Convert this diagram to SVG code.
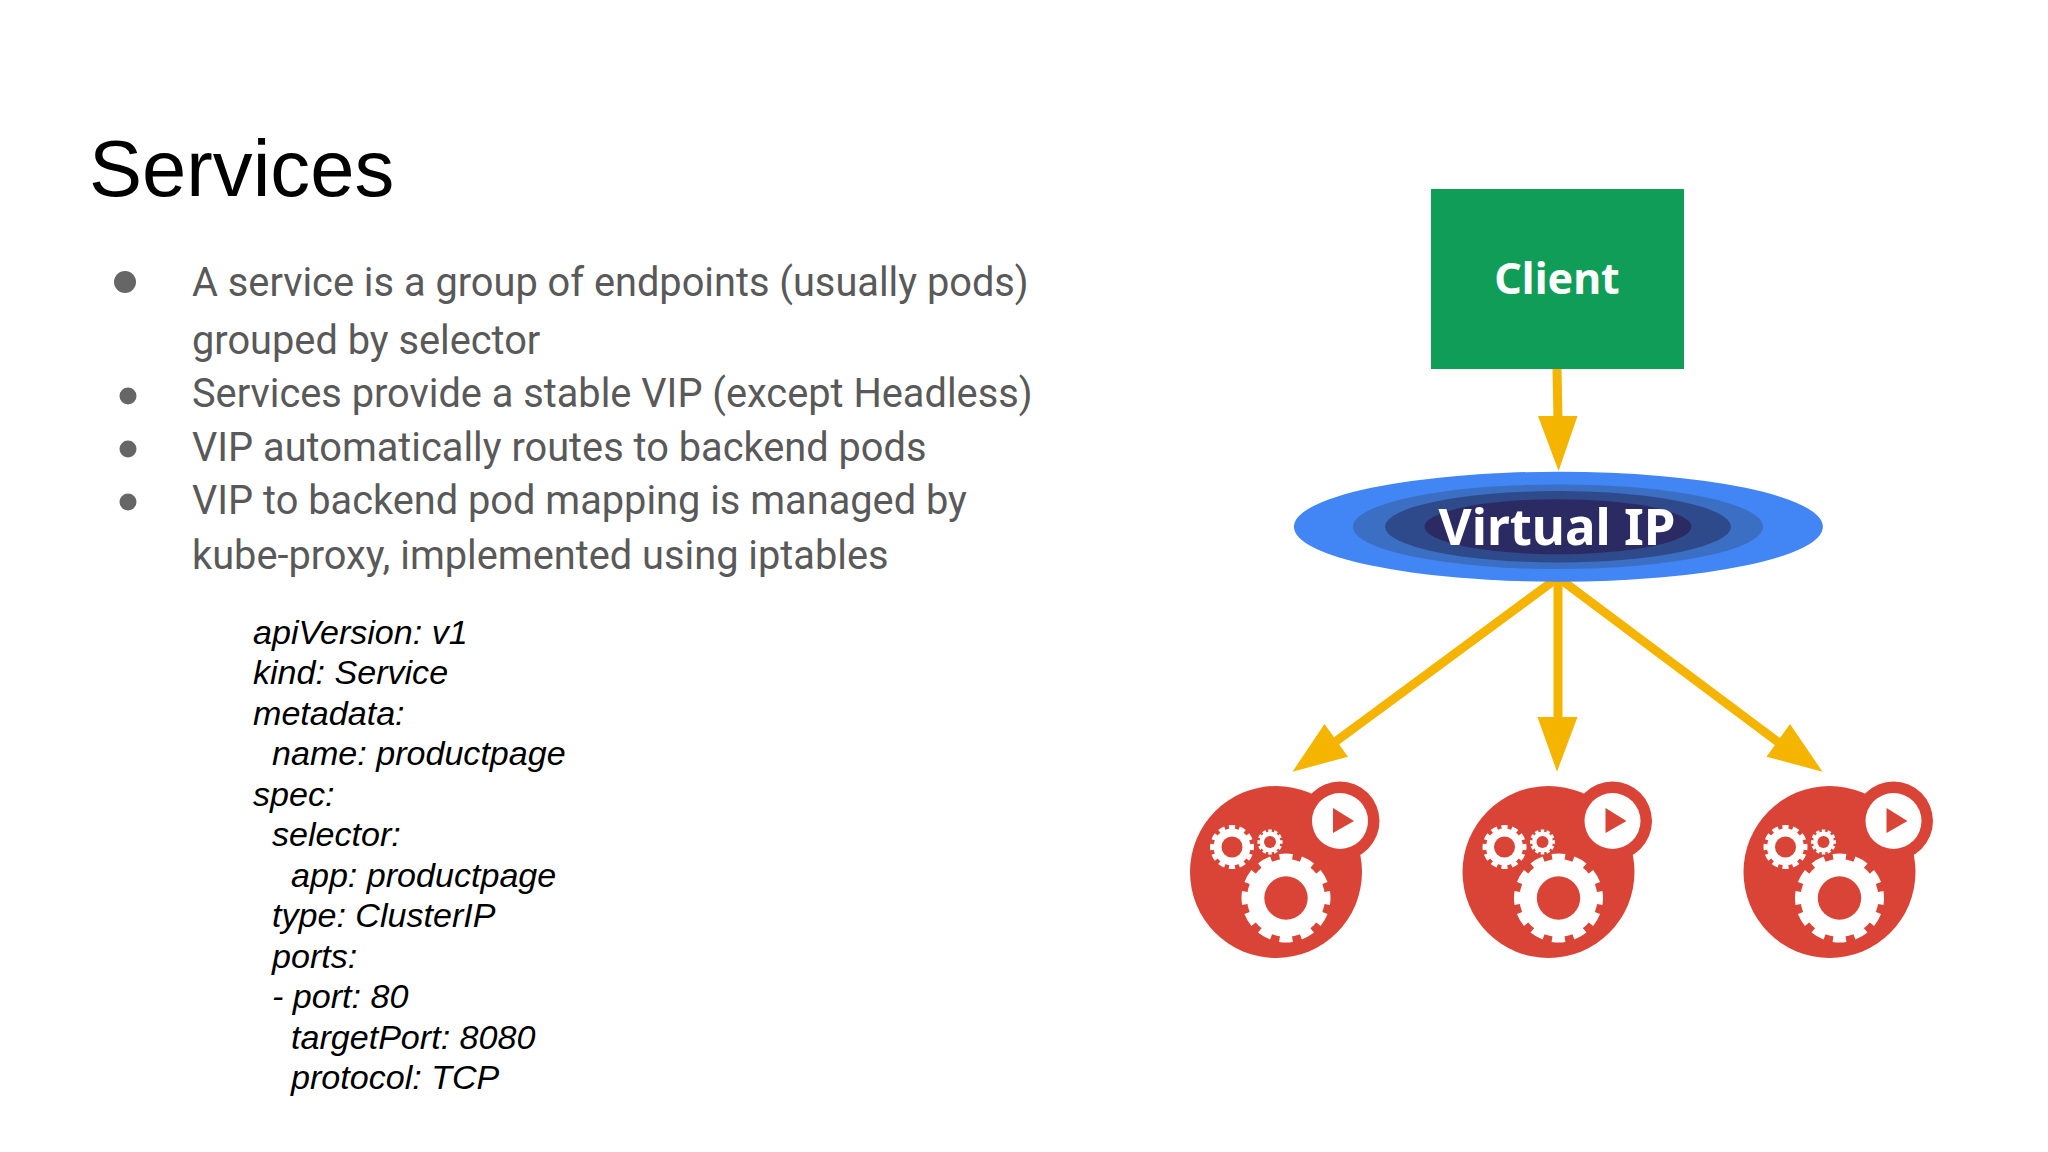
<svg xmlns="http://www.w3.org/2000/svg" width="2048" height="1152" viewBox="0 0 2048 1152">
<style>
.title{font:79.6px "Liberation Sans",Arial,sans-serif;fill:#000}
.b{font:39.75px Roboto,sans-serif;fill:#595959}
.c{font:italic 34.1px "Liberation Sans",Arial,sans-serif;fill:#000}
.w{font-family:"Noto Sans","Open Sans",sans-serif;font-weight:700;fill:#fff;text-anchor:middle}
.red{fill:#d94436}.wh{fill:#fff}
.conn{stroke:#f4b400;stroke-width:9;fill:none}
.head{fill:#f4b400}
.dot{fill:#666}
.t{fill:none;stroke:#fff;stroke-dasharray:6 4;stroke-dashoffset:3}
</style>
<defs>
<g id="pod">
<circle class="red" cx="1276" cy="872" r="86"/>
<circle class="red" cx="1340" cy="821" r="39.5"/>
<circle class="wh" cx="1340" cy="821" r="28"/>
<polygon class="red" points="1333,808 1354,821 1333,833"/>
<circle class="wh" cx="1286" cy="898" r="39"/>
<circle class="t" cx="1286" cy="898" r="41" stroke-width="7" pathLength="120"/>
<circle class="red" cx="1286" cy="898" r="21.7"/>
<circle class="wh" cx="1232" cy="847" r="18.5"/>
<circle class="t" cx="1232" cy="847" r="20" stroke-width="4" pathLength="120"/>
<circle class="red" cx="1232" cy="847" r="10.5"/>
<circle class="wh" cx="1270" cy="842" r="10.5"/>
<circle class="t" cx="1270" cy="842" r="11.3" stroke-width="2.5" pathLength="120"/>
<circle class="red" cx="1270" cy="842" r="6"/>
</g>
</defs>
<rect width="2048" height="1152" fill="#fff"/>
<text class="title" x="89" y="196">Services</text>
<g id="bullets">
<circle class="dot" cx="125" cy="282" r="11"/>
<circle class="dot" cx="128" cy="396" r="8.5"/>
<circle class="dot" cx="128" cy="449" r="8.5"/>
<circle class="dot" cx="128" cy="502" r="8.5"/>
<text class="b" x="192" y="296">A service is a group of endpoints (usually pods)</text>
<text class="b" x="192" y="354">grouped by selector</text>
<text class="b" x="192" y="407">Services provide a stable VIP (except Headless)</text>
<text class="b" x="192" y="461">VIP automatically routes to backend pods</text>
<text class="b" x="192" y="514">VIP to backend pod mapping is managed by</text>
<text class="b" x="192" y="569">kube-proxy, implemented using iptables</text>
</g>
<g id="code">
<text class="c" x="253" y="643.5">apiVersion: v1</text>
<text class="c" x="253" y="684">kind: Service</text>
<text class="c" x="253" y="724.5">metadata:</text>
<text class="c" x="272" y="765">name: productpage</text>
<text class="c" x="253" y="805.5">spec:</text>
<text class="c" x="272" y="846">selector:</text>
<text class="c" x="291" y="886.5">app: productpage</text>
<text class="c" x="272" y="927">type: ClusterIP</text>
<text class="c" x="272" y="967.5">ports:</text>
<text class="c" x="272" y="1008">- port: 80</text>
<text class="c" x="291" y="1048.5">targetPort: 8080</text>
<text class="c" x="291" y="1089">protocol: TCP</text>
</g>
<g id="connectors">
<line class="conn" x1="1557" y1="369" x2="1558" y2="420"/>
<polygon class="head" points="1538,416 1577.5,416 1558.6,471"/>
<line class="conn" x1="1556" y1="579" x2="1335" y2="742"/>
<polygon class="head" points="1292.5,771.7 1324.5,724 1348,756.7"/>
<line class="conn" x1="1558" y1="579" x2="1558" y2="720"/>
<polygon class="head" points="1537.5,717 1577.5,717 1557,771.7"/>
<line class="conn" x1="1560" y1="579" x2="1778" y2="742"/>
<polygon class="head" points="1822.5,771.7 1766.5,756.7 1790,724"/>
</g>
<g id="client"><rect x="1431" y="189" width="253" height="180" fill="#0f9d58"/><text class="w" x="1557" y="294" font-size="43">Client</text></g>
<g id="vip">
<ellipse cx="1558.4" cy="526.7" rx="264.5" ry="55" fill="#4285f4"/>
<ellipse cx="1558" cy="526.7" rx="205" ry="42.3" fill="#3b6fc4"/>
<ellipse cx="1558" cy="526.7" rx="173" ry="35.7" fill="#2f4a8a"/>
<ellipse cx="1558" cy="526.7" rx="133.5" ry="27.5" fill="#2c2a62"/>
<text class="w" x="1557" y="545" font-size="51">Virtual IP</text>
</g>
<g id="pod1"><use href="#pod"/></g>
<g id="pod2"><use href="#pod" x="272.5"/></g>
<g id="pod3"><use href="#pod" x="553.5"/></g>
</svg>
